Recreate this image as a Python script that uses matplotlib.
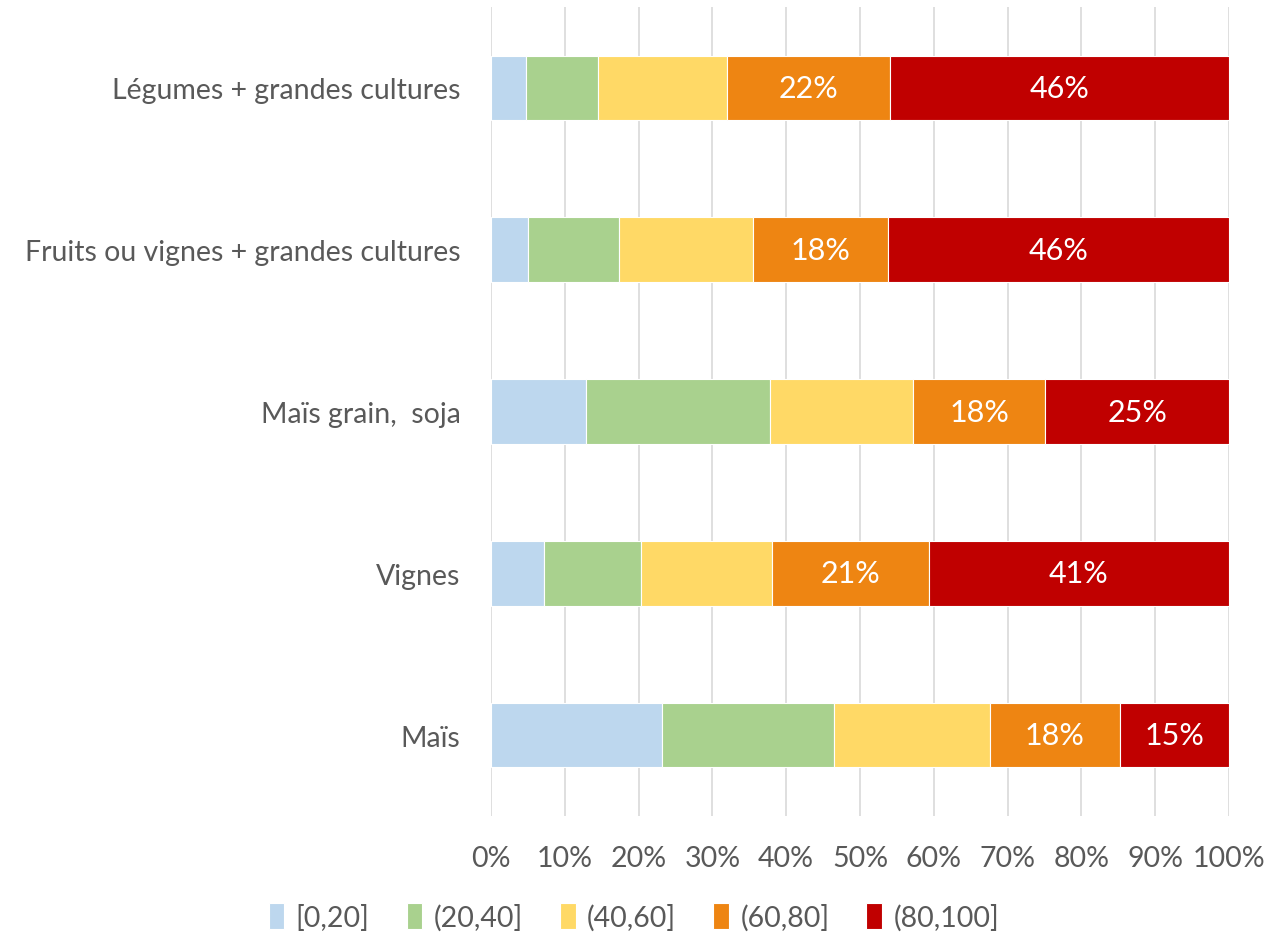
import matplotlib.pyplot as plt
import numpy as np

plt.rcParams['font.family'] = ['Lato', 'DejaVu Sans']

categories = ["Légumes + grandes cultures", "Fruits ou vignes + grandes cultures",
              "Maïs grain,  soja", "Vignes", "Maïs"]
classes = ["[0,20]", "(20,40]", "(40,60]", "(60,80]", "(80,100]"]
v_0_20 = [4.7, 5.0, 12.9, 7.2, 23.2]
v_20_40 = [9.8, 12.3, 24.9, 13.1, 23.3]
v_40_60 = [17.5, 18.2, 19.4, 17.8, 21.1]
v_60_80 = [22.0, 18.3, 17.9, 21.2, 17.6]
v_80_100 = [46.0, 46.2, 24.9, 40.7, 14.8]
labelled = [False, False, False, True, True]

colors = ["#BDD7EE", "#A9D18E", "#FFD966", "#EE8512", "#C00000"]
grey = "#595959"

series = [v_0_20, v_20_40, v_40_60, v_60_80, v_80_100]

fig = plt.figure(figsize=(12.68, 9.37), dpi=100)
ax = fig.add_axes([491 / 1268, 1 - 817 / 937, (1229 - 491) / 1268, (817 - 8) / 937])

y = np.arange(len(categories))[::-1]
left = np.zeros(len(categories))
for vals, col, name, lab in zip(series, colors, classes, labelled):
    vals = np.array(vals)
    bars = ax.barh(y, vals, left=left, height=0.4, color=col, edgecolor="white",
                   linewidth=0.8, label=name, zorder=3)
    if lab:
        for b, v in zip(bars, vals):
            ax.text(b.get_x() + b.get_width() / 2, b.get_y() + b.get_height() / 2,
                    f"{v:.0f}%", ha="center", va="center", color="white",
                    fontsize=22, zorder=4)
    left += vals

ax.set_xlim(0, 100)
ax.set_ylim(-0.5, len(categories) - 0.5)
ax.set_xticks(np.arange(0, 101, 10))
ax.set_xticklabels([f"{t}%" for t in range(0, 101, 10)])
ax.set_yticks(y)
ax.set_yticklabels(categories)
ax.grid(axis="x", color="#D9D9D9", linewidth=1.2, zorder=0)
for s in ax.spines.values():
    s.set_visible(False)
ax.tick_params(axis="both", length=0, colors=grey, labelsize=20.5)
ax.tick_params(axis="x", pad=21)
ax.tick_params(axis="y", pad=22)

leg = fig.legend(loc="center", bbox_to_anchor=(0.5, 1 - 918 / 937), ncol=5,
                 frameon=False, fontsize=20.5, handlelength=0.55, handleheight=1.0,
                 handletextpad=0.4, columnspacing=1.3, labelcolor=grey)

fig.savefig("out.png", dpi=100)
